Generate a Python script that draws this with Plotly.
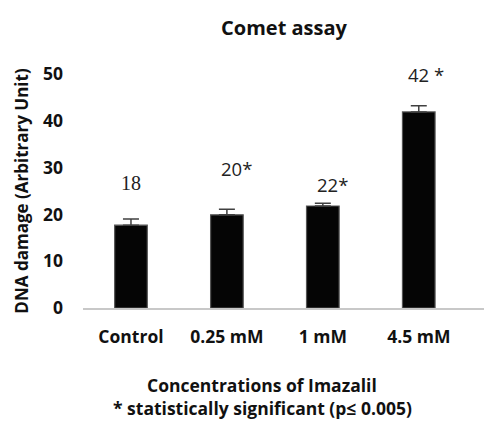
import plotly.graph_objects as go

categories = ["Control", "0.25 mM", "1 mM", "4.5 mM"]
values = [17.7, 19.9, 21.8, 41.9]
errors = [1.3, 1.2, 0.6, 1.3]
labels = ["18", "20*", "22*", "42 *"]
label_y = [26.7, 29.9, 26.3, 50.0]
label_dx = [0, 0.1, 0.1, 0.08]
x_title_lines = ["Concentrations of Imazalil", "* statistically significant (p≤ 0.005)"]

FONT = "Open Sans"

fig = go.Figure()
fig.add_trace(go.Bar(
    x=list(range(len(categories))), y=values, width=0.34,
    marker=dict(color="#050505", line=dict(color="#555555", width=1.2)),
    error_y=dict(type="data", symmetric=False, array=errors, arrayminus=[0]*len(errors),
                 color="#404040", thickness=1.5, width=8),
    showlegend=False,
))

for i, (t, yv) in enumerate(zip(labels, label_y)):
    fig.add_annotation(
        x=i + label_dx[i], y=yv, text=t, showarrow=False, xref="x", yref="y",
        font=dict(family="Liberation Serif" if i == 0 else FONT, size=20 if i == 0 else 18.5,
                  color="#222222"),
    )

for line, py in zip(x_title_lines, [385, 408]):
    fig.add_annotation(
        x=(262 - 83) / 401, y=(308 - py) / 234, xref="paper", yref="paper",
        text=f"<b>{line}</b>", showarrow=False, xanchor="center", yanchor="middle",
        font=dict(family=FONT, size=17.5, color="#111111"),
    )

fig.update_layout(
    width=484, height=421,
    margin=dict(l=83, r=0, t=74, b=113),
    paper_bgcolor="white", plot_bgcolor="white",
    font=dict(family=FONT, color="#111111"),
    title=dict(text="<b>Comet assay</b>", x=284/484, xanchor="center", y=1-28/421,
               yanchor="middle", font=dict(size=20, family=FONT)),
    bargap=0.66,
)
fig.update_xaxes(
    range=[-0.5, 3.68], tickmode="array", tickvals=list(range(len(categories))),
    ticktext=[f"<b>{c}</b>" for c in categories], tickfont=dict(size=17.5),
    showline=True, linecolor="#c8c8c8", linewidth=1.5, ticks="", showgrid=False,
    zeroline=False, ticklabelstandoff=12,
)
fig.update_yaxes(
    range=[0, 50], tickvals=[0, 10, 20, 30, 40, 50],
    ticktext=[f"<b>{v}</b>" for v in [0, 10, 20, 30, 40, 50]], tickfont=dict(size=17.5),
    showline=False, showgrid=False, zeroline=False, ticks="", ticklabelstandoff=19,
    title=dict(text="<b>DNA damage (Arbitrary Unit)</b>", font=dict(size=17), standoff=10),
)

fig.write_html("out.html")
